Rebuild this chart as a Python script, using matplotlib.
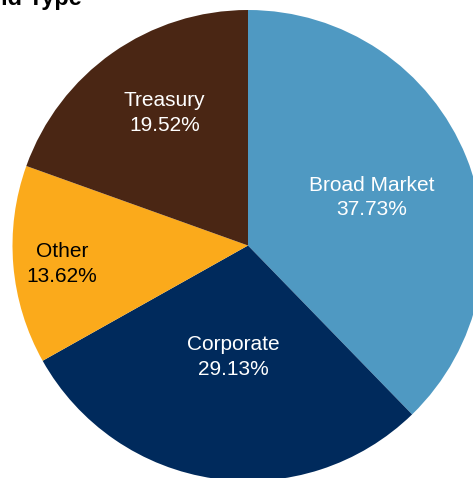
import matplotlib.pyplot as plt
import numpy as np

plt.rcParams['font.family'] = ['Liberation Sans', 'DejaVu Sans']

categories = ['Broad Market', 'Corporate', 'Other', 'Treasury']
shares = [37.73, 29.13, 13.62, 19.52]
colors = ['#4f99c2', '#002a5c', '#fbaa1b', '#4a2614']
text_colors = ['white', 'white', 'black', 'white']
# label placement: fraction of radius and small turn (deg) off the wedge middle
label_radius = [0.565, 0.478, 0.794, 0.665]
label_turn = [-0.9, 0.6, 0.9, -3.0]

W, H = 473, 478
cx, cy, r = 248, 245.5, 235.5

fig = plt.figure(figsize=(W / 100, H / 100), dpi=100)
ax = fig.add_axes([0, 0, 1, 1])

wedges, _ = ax.pie(shares, colors=colors, startangle=90, counterclock=False,
                   radius=1, wedgeprops=dict(linewidth=0))

for w, name, val, tc, lr, lt in zip(wedges, categories, shares, text_colors,
                                    label_radius, label_turn):
    ang = np.deg2rad((w.theta1 + w.theta2) / 2 + lt)
    ax.text(lr * np.cos(ang), lr * np.sin(ang), f'{name}\n{val:.2f}%',
            ha='center', va='center', fontsize=15, color=tc, linespacing=1.35)

ax.set_aspect('auto')
ax.set_xlim(-cx / r, (W - cx) / r)
ax.set_ylim(-(H - cy) / r, cy / r)
ax.axis('off')

# title is clipped by the top-left edge, as in the source image
fig.text(82 / W, 1 - 5 / H, 'Fund Type', ha='right', va='baseline',
         fontsize=17, fontweight='bold')

fig.savefig('out.png', dpi=100)
